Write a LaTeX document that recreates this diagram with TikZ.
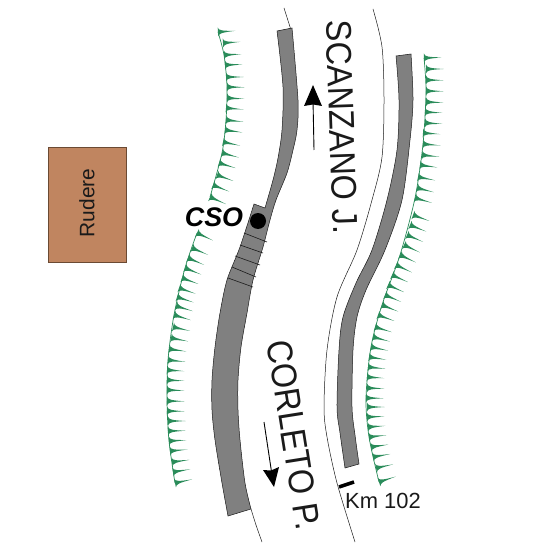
\documentclass[tikz,border=0pt]{standalone}
\usepackage{graphicx}
\usepackage{fontspec}
\setmainfont{Liberation Sans}
\definecolor{roadgray}{HTML}{808080}
\definecolor{ruin}{HTML}{C08560}
\definecolor{ruinline}{HTML}{6B4A33}
\definecolor{scarp}{HTML}{2A8C5A}
\definecolor{inkdark}{HTML}{1A1A1A}
\tikzset{
  band/.style={fill=roadgray,draw=inkdark,line width=0.5bp},
  thinline/.style={draw=inkdark,line width=0.5bp},
  roadtext/.style={text=inkdark,inner sep=0pt,font=\fontsize{32.5}{32.5}\selectfont},
  tooth/.style={fill=scarp,draw=none},
  stripe/.style={draw=inkdark,line width=0.6bp}
}
\newcommand{\scarpteeth}[1]{%
  \foreach \px/\py/\pa in {#1}{%
    \begin{scope}[shift={(\px,\py)},rotate=-\pa]
      \fill[tooth] (0,-4.5) .. controls (0.8,-1.3) and (4,-0.8) .. (17.5,0)
        .. controls (4,0.8) and (0.8,1.3) .. (0,4.5) -- cycle;
    \end{scope}}}
\begin{document}
\begin{tikzpicture}[x=1bp,y=-1bp]
\useasboundingbox (0,0) rectangle (551,551);
\fill[white] (0,0) rectangle (551,551);
% thin carriageway edges
\draw[thinline] plot[smooth] coordinates {(284,8) (291,30)};
\draw[thinline] plot[smooth] coordinates {(251,509) (256,525) (262,542)};
\draw[thinline] plot[smooth] coordinates {(373,9) (382,47) (384,100) (382,157) (372,200) (357,250) (337,297) (327,350) (324,407) (327,437) (337,483) (355,542)};
% left band
\path[band] plot[smooth] coordinates {(292,28) (298,100) (297,130) (293,150) (287,173) (276,200) (270,220) (263,247) (253,280) (247,313) (241,347) (238,380) (238,410) (240,440) (245,483) (251,509)}
  -- plot[smooth] coordinates {(228,516) (222,483) (215,440) (212,410) (212,380) (215,347) (220,313) (227,280) (240,247) (254,204)}
  -- (265,208) -- plot[smooth] coordinates {(265,208) (273,180) (278,158) (282,130) (283,87) (277,31)} -- cycle;
\draw[stripe] (244,233) -- (267,242);
\draw[stripe] (240,245) -- (263,253);
\draw[stripe] (235,256) -- (260,265);
\draw[stripe] (232,267) -- (256,277);
\draw[stripe] (228,278) -- (253,287);
\fill[black] (258,221) circle (8);
% right band
\path[band] plot[smooth] coordinates {(411,54) (413,100) (410,140) (402,200) (385,250) (366,290) (357,317) (353,350) (352,407) (355,435) (359,464)}
  -- plot[smooth] coordinates {(345,468) (340,433) (337,407) (339,350) (343,317) (356,283) (372,250) (387,200) (397,150) (399,100) (396,56)} -- cycle;
% scarps
\draw[scarp,line width=0.7bp] plot[smooth] coordinates {(218,32) (224,55) (227,87) (226,120) (222,153) (210,197)};
\draw[scarp,line width=0.7bp] plot[smooth] coordinates {(197,233) (185,268) (174,315) (168,360) (167,401) (169,441) (175,483)};
\draw[scarp,line width=0.7bp] plot[smooth] coordinates {(424,58) (426,91) (423,144) (415,198) (400,255) (382,305) (371,347) (366,398) (369,437) (379,482)};
\scarpteeth{218/32/-4,223/43/-4,224/55/-3,225/65/-2,226/77/0,227/87/1,227/98/3,226/108/5,226/120/6,225/130/8,223/142/12,222/153/15,219/163/17,217/175/20,213/185/22,210/197/24,
197/233/25,192/248/23,188/258/23,185/268/22,182/278/20,179/288/19,177/297/18,176/306/17,174/315/17,173/327/13,171/338/11,169/349/8,168/360/6,167/370/4,167/380/3,167/390/2,167/401/1,167/411/1,168/421/0,168/431/-1,169/441/-3,170/451/-5,172/462/-7,173/472/-9,175/483/-12}
\scarpteeth{424/58/-2,426/69/0,426/80/1,426/91/1,426/102/2,425/112/3,425/123/3,423/133/4,423/144/5,422/155/6,420/165/8,418/177/11,417/188/14,415/198/16,413/215/20,410/225/22,407/235/23,404/245/25,400/255/25,396/265/25,392/275/24,388/285/24,385/295/23,382/305/22,378/315/20,375/327/17,373/337/15,371/347/12,369/357/9,368/367/6,367/377/4,367/388/2,366/398/1,367/407/0,367/417/-2,368/427/-4,369/437/-6,371/447/-8,373/457/-10,376/468/-12,379/482/-18}
% ruin
\node[draw=ruinline,line width=0.7bp,fill=ruin,minimum width=78bp,minimum height=115bp,inner sep=0pt] (ruin) at (87,204.5) {};
\node[rotate=90,inner sep=0pt,text=inkdark,font=\fontsize{21}{21}\selectfont] (ruinlabel) at (87,203) {Rudere};
% labels
\node[inner sep=0pt,text=black,font=\fontsize{27}{27}\selectfont\bfseries\itshape] (cso) at (214,217) {CSO};
\node[roadtext,rotate=-88] (scanzano) at (342,127.5) {\scalebox{1}[1.1]{SCANZANO J.}};
\node[roadtext,rotate=-81] (corleto) at (294,435) {\scalebox{1}[1.1]{CORLETO P.}};
\node[inner sep=0pt,text=inkdark,font=\fontsize{22}{22}\selectfont] (km) at (383,501) {Km 102};
% direction arrows
\draw[black,line width=0.9bp] (314,150) -- (313,100);
\fill[black] (313,85) -- (322,106) -- (313,104.5) -- (304,106) -- cycle;
\draw[black,line width=0.9bp] (264,422) -- (272,475);
\fill[black] (274,487) -- (263,470) -- (271,470.5) -- (279,467) -- cycle;
% km tick
\draw[black,line width=3.5bp] (339,487) -- (354,482);
\end{tikzpicture}
\end{document}
